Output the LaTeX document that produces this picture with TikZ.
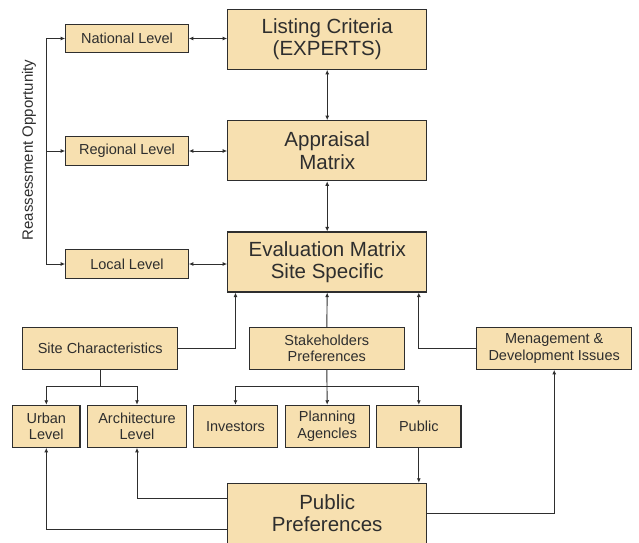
\documentclass[tikz,border=0pt]{standalone}
\usepackage{fontspec}
\setmainfont{Liberation Sans}
\usetikzlibrary{arrows.meta}
\definecolor{boxfill}{HTML}{F7E0B0}
\definecolor{ink}{HTML}{2E2E2E}

\begin{document}
\begin{tikzpicture}[
        x=1pt,y=-1pt,
        box/.style={draw=ink,fill=boxfill,line width=1.1pt,text=ink,
                    align=center,inner sep=0pt,font=\fontsize{14.5}{16.7}\selectfont},
        bigbox/.style={box,minimum width=199pt,minimum height=60pt,
                    font=\fontsize{20.5}{22.5}\selectfont},
        lvl/.style={box,minimum width=122.6pt,minimum height=28.4pt},
        wide/.style={box,minimum width=155pt,minimum height=42pt},
        small/.style={box,minimum height=42pt},
        line/.style={draw=ink,line width=0.9pt},
        tip/.style={line,-{Latex[length=4.5pt,width=4pt]}},
        both/.style={line,{Latex[length=4.5pt,width=4pt]}-{Latex[length=4.5pt,width=4pt]}}
    ]
    \useasboundingbox (0,0) rectangle (639,542);
    \begin{scope}
    % Main column:
    \node[bigbox] (list) at (327.2,39.3)  {Listing Criteria\\(EXPERTS)};
    \node[bigbox] (appr) at (327.2,150.7) {Appraisal\\Matrix};
    \node[bigbox] (eval) at (327.2,262)   {Evaluation Matrix\\Site Specific};
    \node[bigbox] (pref) at (327.2,513.3) {Public\\Preferences};

    % Levels on the left:
    \node[lvl] (nat) at (127,38.5) {National Level};
    \node[lvl] (reg) at (127,151)  {Regional Level};
    \node[lvl] (loc) at (127,264)  {Local Level};
    \node[rotate=90,text=ink,font=\fontsize{15}{16}\selectfont] (reass) at (29,150)
        {Reassessment Opportunity};

    % Second row:
    \node[wide] (site)  at (100.2,348.3) {Site Characteristics};
    \node[wide] (stake) at (326.8,348.3) {Stakeholders\\Preferences};
    \node[wide] (mgmt)  at (554.2,348.3) {Menagement \&\\Development Issues};

    % Third row:
    \node[small,minimum width=67.3pt] (urban) at (46.3,426.3)  {Urban\\Level};
    \node[small,minimum width=99.4pt] (arch)  at (137,426.3)   {Architecture\\Level};
    \node[small,minimum width=84.4pt] (inv)   at (235.5,426.3) {Investors};
    \node[small,minimum width=84.3pt] (plan)  at (327.2,426.3) {Planning\\Agencles};
    \node[small,minimum width=84.3pt] (pub)   at (418.8,426.3) {Public};

    % Reassessment spine:
    \coordinate (spine) at (46,151);
    \draw[line] (nat.west -| spine) -- (loc.west -| spine);
    \foreach \n in {nat,reg,loc}
        \draw[tip] (\n.west -| spine) -- (\n.west);

    % Two-way links:
    \draw[both] (nat.east) -- (nat.east -| list.west);
    \draw[both] (reg.east) -- (reg.east -| appr.west);
    \draw[both] (loc.east) -- (loc.east -| eval.west);
    \draw[both] (list.south) -- (appr.north);
    \draw[both] (appr.south) -- (eval.north);

    % Into the evaluation matrix:
    \draw[tip] (site.east) -| (eval.south -| inv.north);
    \draw[tip] (stake.north) -- (eval.south);
    \draw[tip] (mgmt.west) -| (eval.south -| pub.north);

    % Branches:
    \coordinate (sbr) at ([yshift=-16.4pt]site.south);
    \coordinate (kbr) at ([yshift=-16.4pt]stake.south);
    \draw[line] (site.south) -- (sbr);
    \draw[tip] (sbr) -| (urban.north);
    \draw[tip] (sbr) -| (arch.north);
    \draw[tip] (stake.south) -- (plan.north);
    \draw[tip] (kbr) -| (inv.north);
    \draw[tip] (kbr) -| (pub.north);

    % Public preferences feedback:
    \draw[tip] (pub.south) -- (pub.south |- pref.north);
    \draw[tip] (pref.east) -| (mgmt.south);
    \draw[tip] ([yshift=15pt]pref.west) -| (arch.south);
    \draw[tip] ([yshift=-15.7pt]pref.west) -| (urban.south);
    \end{scope}
\end{tikzpicture}
\end{document}
